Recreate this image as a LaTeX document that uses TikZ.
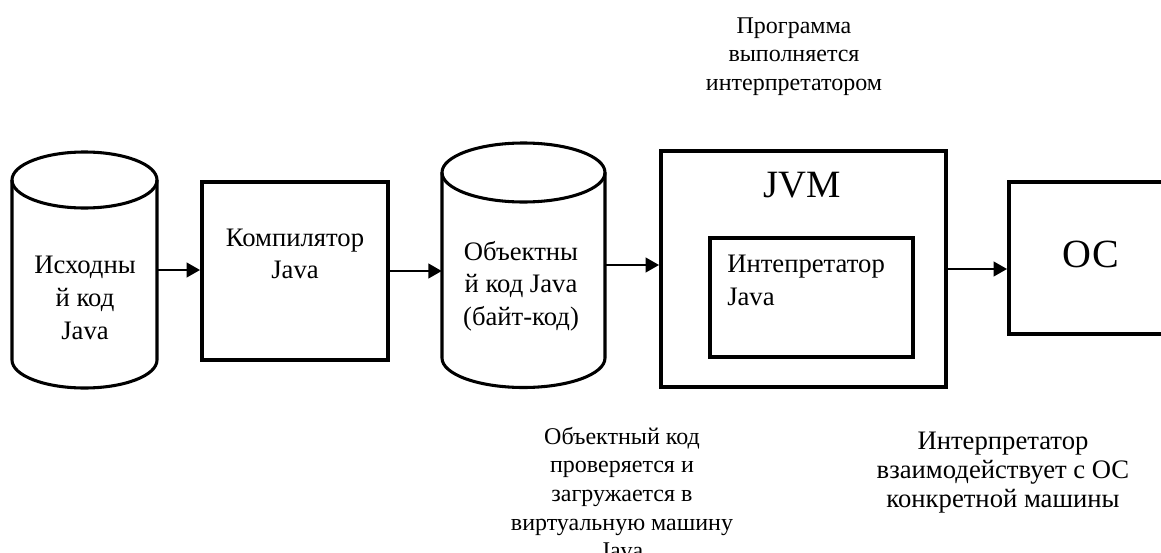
\documentclass[tikz,border=0pt]{standalone}
\usepackage{fontspec}
\setmainfont{Liberation Serif}
\usetikzlibrary{arrows.meta,fit}

\begin{document}
\begin{tikzpicture}[x=0.75pt,y=-0.75pt,
  box/.style={draw, line width=3pt, inner sep=0pt},
  body/.style={inner sep=0pt},
  cylline/.style={line width=2.3pt},
  arr/.style={line width=1.5pt, -{Triangle[length=10pt,width=11pt]}},
  txt/.style={font=\fontsize{20}{24.5}\selectfont, align=center, inner sep=0pt},
  note/.style={font=\fontsize{18}{21.5}\selectfont, align=center, inner sep=0pt}]
\useasboundingbox (0,0) rectangle (1161,553);
\clip (0,0) rectangle (1161,553);

% Source code (cylinder)
\node[body, fit={(12,152) (157,388)}] (src) {};
\draw[cylline] (12,180) -- (12,360) arc[start angle=180, end angle=0, x radius=72.5, y radius=28] -- (157,180);
\draw[cylline] (84.5,180) ellipse [x radius=72.5, y radius=28];
\node[txt] (srctext) at (85,298) {Исходны\\й код\\Java};

% Compiler
\node[box, fit={(202,182) (388,360)}] (comp) {};
\node[txt] (comptext) at (295,254) {Компилятор\\Java};

% Byte code (cylinder)
\node[body, fit={(442,143) (605,387)}] (obj) {};
\draw[cylline] (442,172.5) -- (442,358) arc[start angle=180, end angle=0, x radius=81.5, y radius=29.5] -- (605,172.5);
\draw[cylline] (523.5,172.5) ellipse [x radius=81.5, y radius=29.5];
\node[txt] (objtext) at (521,286) {Объектны\\й код Java\\(байт-код)};

% JVM with interpreter
\node[box, fit={(661,151) (946,387)}] (jvm) {};
\node[font=\fontsize{29}{34}\selectfont, anchor=base, inner sep=0pt] (jvmtext) at (802,197) {JVM};
\node[box, fit={(710,238) (913,357)}] (interp) {};
\node[txt, align=left, anchor=north west] (interptext) at (727,255) {Интепретатор\\Java};

% OS (cut at the right edge)
\node[box, fit={(1009,182) (1173,334)}] (os) {};
\node[font=\fontsize{30}{36}\selectfont, inner sep=0pt] (ostext) at (1091,254) {ОС};

% Arrows
\draw[arr] (src.east) -- (src.east -| comp.west);
\draw[arr] (comp.east) -- (comp.east -| obj.west);
\draw[arr] (obj.east) -- (obj.east -| jvm.west);
\draw[arr] (jvm.east) -- (jvm.east -| os.west);

% Notes
\node[note] (runnote) at (794,56.5) {Программа\\выполняется\\интерпретатором};
\node[note] (loadnote) at (622,493) {Объектный код\\проверяется и\\загружается в\\виртуальную машину\\Java};
\node[font=\fontsize{20}{21.75}\selectfont, align=center, inner sep=0pt] (osnote) at (1003,473) {Интерпретатор\\взаимодействует с ОС\\конкретной машины};

\end{tikzpicture}
\end{document}
